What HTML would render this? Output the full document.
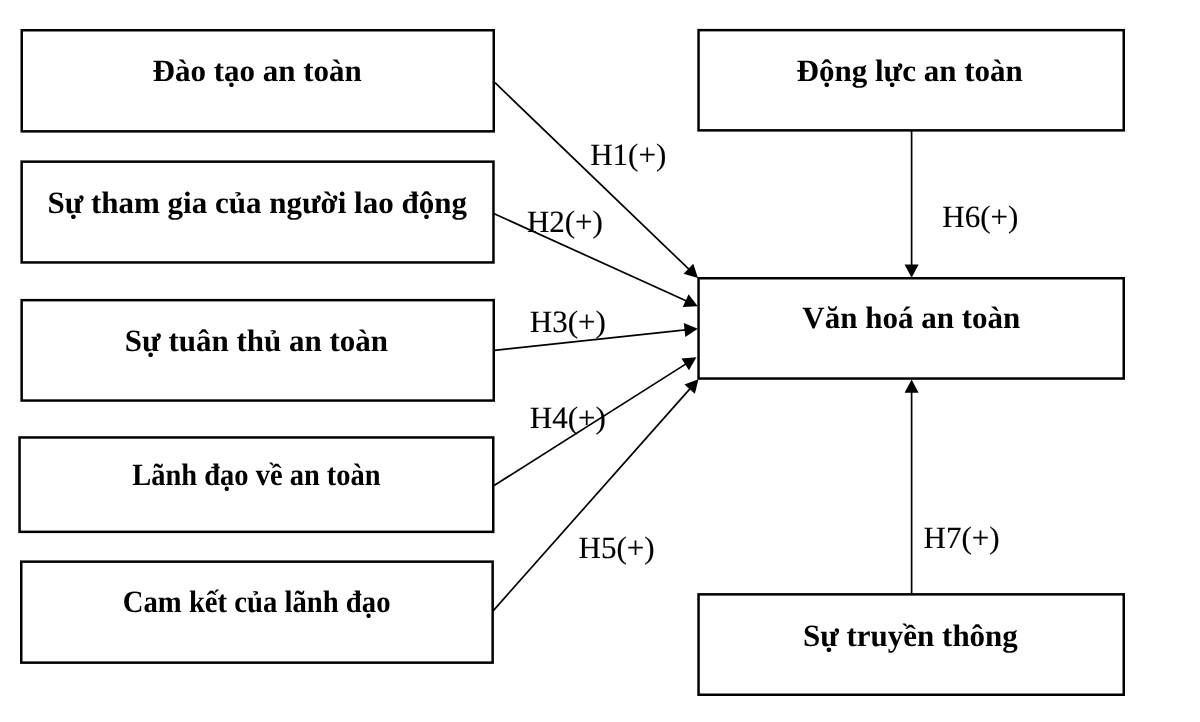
<!DOCTYPE html>
<html><head><meta charset="utf-8"><style>
html,body{margin:0;padding:0;background:#fff;width:1200px;height:722px;overflow:hidden}
svg{display:block;filter:grayscale(100%);text-rendering:geometricPrecision;font-family:"Liberation Serif",serif}
</style></head><body>
<svg width="1200" height="722" viewBox="0 0 1200 722">
<rect width="1200" height="722" fill="#fff"/>
<rect x="21.75" y="30.25" width="472.00" height="101.10" fill="none" stroke="#000" stroke-width="2.5"/>
<rect x="21.65" y="161.65" width="471.80" height="100.80" fill="none" stroke="#000" stroke-width="2.5"/>
<rect x="21.65" y="300.15" width="472.10" height="100.40" fill="none" stroke="#000" stroke-width="2.5"/>
<rect x="19.55" y="437.45" width="473.70" height="94.40" fill="none" stroke="#000" stroke-width="2.5"/>
<rect x="21.25" y="561.65" width="471.40" height="101.00" fill="none" stroke="#000" stroke-width="2.5"/>
<rect x="698.55" y="30.15" width="425.20" height="100.20" fill="none" stroke="#000" stroke-width="2.5"/>
<rect x="698.55" y="278.25" width="425.20" height="100.30" fill="none" stroke="#000" stroke-width="2.5"/>
<rect x="698.55" y="594.35" width="425.20" height="100.40" fill="none" stroke="#000" stroke-width="2.5"/>
<line x1="495.00" y1="82.70" x2="689.12" y2="269.45" stroke="#000" stroke-width="1.7"/>
<polygon points="697.99,277.98 683.55,273.80 693.26,263.71" fill="#000"/>
<line x1="493.70" y1="213.50" x2="686.56" y2="301.08" stroke="#000" stroke-width="1.7"/>
<polygon points="697.76,306.17 682.76,307.04 688.55,294.29" fill="#000"/>
<line x1="494.60" y1="350.30" x2="685.57" y2="329.96" stroke="#000" stroke-width="1.7"/>
<polygon points="697.80,328.66 685.31,337.03 683.83,323.11" fill="#000"/>
<line x1="493.70" y1="485.70" x2="686.05" y2="363.87" stroke="#000" stroke-width="1.7"/>
<polygon points="696.44,357.29 688.95,370.32 681.46,358.49" fill="#000"/>
<line x1="492.90" y1="611.10" x2="690.31" y2="388.40" stroke="#000" stroke-width="1.7"/>
<polygon points="698.47,379.20 694.88,393.80 684.40,384.51" fill="#000"/>
<line x1="911.60" y1="131.00" x2="911.60" y2="265.50" stroke="#000" stroke-width="1.7"/>
<polygon points="911.60,277.80 904.60,264.50 918.60,264.50" fill="#000"/>
<line x1="911.60" y1="593.00" x2="911.60" y2="391.70" stroke="#000" stroke-width="1.7"/>
<polygon points="911.60,379.40 918.60,392.70 904.60,392.70" fill="#000"/>
<text x="152.50" y="81.30" font-family="Liberation Serif" font-weight="bold" font-size="31">Đào tạo an toàn</text>
<text x="47.40" y="212.60" font-family="Liberation Serif" font-weight="bold" font-size="31">Sự tham gia của người lao động</text>
<text x="124.80" y="350.80" font-family="Liberation Serif" font-weight="bold" font-size="31">Sự tuân thủ an toàn</text>
<text transform="translate(132.30,484.80) scale(0.918,1.0)" font-family="Liberation Serif" font-weight="bold" font-size="31">Lãnh đạo về an toàn</text>
<text transform="translate(122.80,612.00) scale(0.925,1.0)" font-family="Liberation Serif" font-weight="bold" font-size="31">Cam kết của lãnh đạo</text>
<text x="796.60" y="81.00" font-family="Liberation Serif" font-weight="bold" font-size="31">Động lực an toàn</text>
<text x="802.30" y="328.40" font-family="Liberation Serif" font-weight="bold" font-size="31">Văn hoá an toàn</text>
<text x="802.90" y="645.70" font-family="Liberation Serif" font-weight="bold" font-size="31">Sự truyền thông</text>
<text x="590.20" y="165.00" font-family="Liberation Serif" font-size="31" stroke="#000" stroke-width="0.15">H1(+)</text>
<text x="526.90" y="231.70" font-family="Liberation Serif" font-size="31" stroke="#000" stroke-width="0.15">H2(+)</text>
<text x="529.80" y="331.70" font-family="Liberation Serif" font-size="31" stroke="#000" stroke-width="0.15">H3(+)</text>
<text x="529.80" y="427.50" font-family="Liberation Serif" font-size="31" stroke="#000" stroke-width="0.15">H4(+)</text>
<text x="578.60" y="557.50" font-family="Liberation Serif" font-size="31" stroke="#000" stroke-width="0.15">H5(+)</text>
<text x="942.30" y="226.80" font-family="Liberation Serif" font-size="31" stroke="#000" stroke-width="0.15">H6(+)</text>
<text x="923.60" y="547.50" font-family="Liberation Serif" font-size="31" stroke="#000" stroke-width="0.15">H7(+)</text>
</svg>
</body></html>
